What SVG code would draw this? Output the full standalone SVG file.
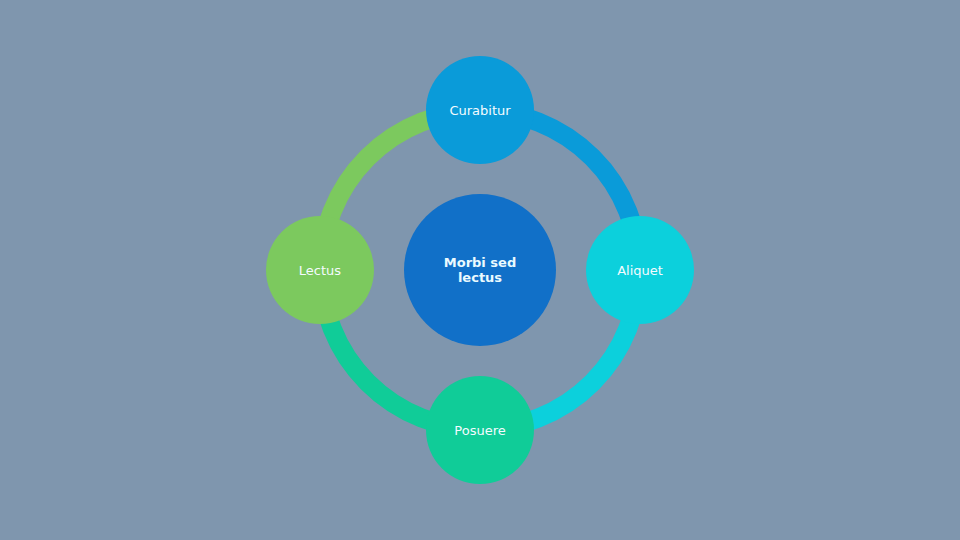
<svg xmlns="http://www.w3.org/2000/svg" width="960" height="540" viewBox="0 0 960 540">
<style>
.lbl{font-family:"DejaVu Sans","Liberation Sans",sans-serif;font-size:13px;fill:#f4fbff;text-anchor:middle}
.ctr{font-family:"DejaVu Sans","Liberation Sans",sans-serif;font-size:13px;font-weight:bold;fill:#eafaff;text-anchor:middle}
.arc{fill:none;stroke-width:19}
</style>
<rect width="960" height="540" fill="#7f96ae"/>
<g id="connectors">
<path class="arc" stroke="#0a9bd9" d="M480 111 A159 159 0 0 1 639 270"/>
<path class="arc" stroke="#0cd0dc" d="M639 270 A159 159 0 0 1 480 429"/>
<path class="arc" stroke="#10cc98" d="M480 429 A159 159 0 0 1 321 270"/>
<path class="arc" stroke="#7cc95e" d="M321 270 A159 159 0 0 1 480 111"/>
</g>
<g id="center">
<circle cx="480" cy="270" r="76" fill="#1170c8"/>
<text class="ctr" x="480" y="267">Morbi sed</text>
<text class="ctr" x="480" y="282">lectus</text>
</g>
<g id="curabitur">
<circle cx="480" cy="110" r="54" fill="#0a9bd9"/>
<text class="lbl" x="480" y="115">Curabitur</text>
</g>
<g id="aliquet">
<circle cx="640" cy="270" r="54" fill="#0cd0dc"/>
<text class="lbl" x="640" y="275">Aliquet</text>
</g>
<g id="posuere">
<circle cx="480" cy="430" r="54" fill="#10cc98"/>
<text class="lbl" x="480" y="435">Posuere</text>
</g>
<g id="lectus">
<circle cx="320" cy="270" r="54" fill="#7cc95e"/>
<text class="lbl" x="320" y="275">Lectus</text>
</g>
</svg>
